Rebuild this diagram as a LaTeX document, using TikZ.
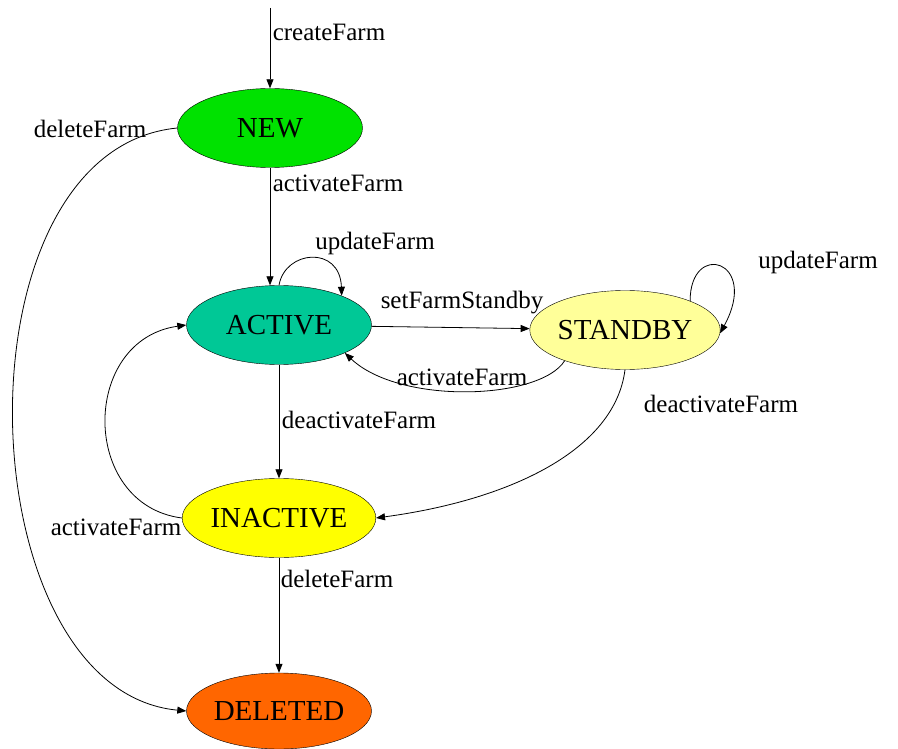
\documentclass[tikz,border=0pt]{standalone}
\usepackage{fontspec}
\setmainfont{Liberation Serif}
\usetikzlibrary{shapes.geometric,arrows.meta}
\definecolor{newgreen}{RGB}{0,226,0}
\definecolor{activeteal}{RGB}{0,200,150}
\definecolor{standbyyellow}{RGB}{255,255,153}
\definecolor{inactiveyellow}{RGB}{255,255,0}
\definecolor{deletedorange}{RGB}{255,102,0}
\begin{document}
\begin{tikzpicture}[x=1pt, y=-1pt, >={Triangle[length=9pt,width=7pt]},
	state/.style={ellipse, draw, thin, inner sep=0pt, minimum width=185pt, minimum height=79pt, font=\fontsize{29}{31}\selectfont},
	lbl/.style={font=\fontsize{25}{27}\selectfont, inner sep=0pt},
	every path/.style={line width=0.8pt}]
	\useasboundingbox (0,0) rectangle (898,749);
	
	% states
	\node[state, fill=newgreen] (new) at (270,128) {NEW};
	\node[state, fill=activeteal] (active) at (279,325) {ACTIVE};
	\node[state, fill=standbyyellow, minimum width=174pt] (standby) at (625,330) {STANDBY};
	\node[state, fill=inactiveyellow] (inactive) at (279,518) {INACTIVE};
	\node[state, fill=deletedorange, minimum height=76pt] (deleted) at (279,711) {DELETED};
	
	% entry
	\coordinate (entry) at (270,8);
	\draw[->] (entry) -- (new);
	\node[lbl] (lcreate) at (329,32) {createFarm};
	
	% new -> active
	\draw[->] (new.south) -- (new.south |- active.north);
	\node[lbl] (lactnew) at (338,183) {activateFarm};
	
	% new -> deleted
	\draw[->] (new.west) .. controls (-50,150) and (-35,690) .. (deleted.west);
	\node[lbl] (ldelnew) at (90,129) {deleteFarm};
	
	% self loop on active
	\draw[->] (active.north) .. controls (285,250) and (340,245) .. (active.25);
	\node[lbl] (lupdact) at (375,243) {updateFarm};
	
	% active -> standby
	\draw[->] (active) -- (standby);
	\node[lbl] (lstandby) at (462,303) {setFarmStandby};
	
	% standby -> active
	\draw[->] (standby.207) .. controls (540,400) and (400,405) .. (active.-23);
	\node[lbl] (lactsb) at (462,377) {activateFarm};
	
	% self loop on standby
	\draw[->] (standby.24) .. controls (690,240) and (760,260) .. (standby.-2);
	\node[lbl] (lupdsb) at (818,262) {updateFarm};
	
	% active -> inactive
	\draw[->] (active) -- (inactive);
	\node[lbl] (ldeact) at (359,420) {deactivateFarm};
	
	% standby -> inactive
	\draw[->] (standby.south) .. controls (615,450) and (510,500) .. (inactive.east);
	\node[lbl] (ldeactsb) at (721,404) {deactivateFarm};
	
	% inactive -> active
	\draw[->] (inactive.west) .. controls (80,505) and (80,340) .. (active.west);
	\node[lbl] (lactin) at (116,527) {activateFarm};
	
	% inactive -> deleted
	\draw[->] (inactive) -- (deleted);
	\node[lbl] (ldelin) at (337,579) {deleteFarm};
\end{tikzpicture}
\end{document}
